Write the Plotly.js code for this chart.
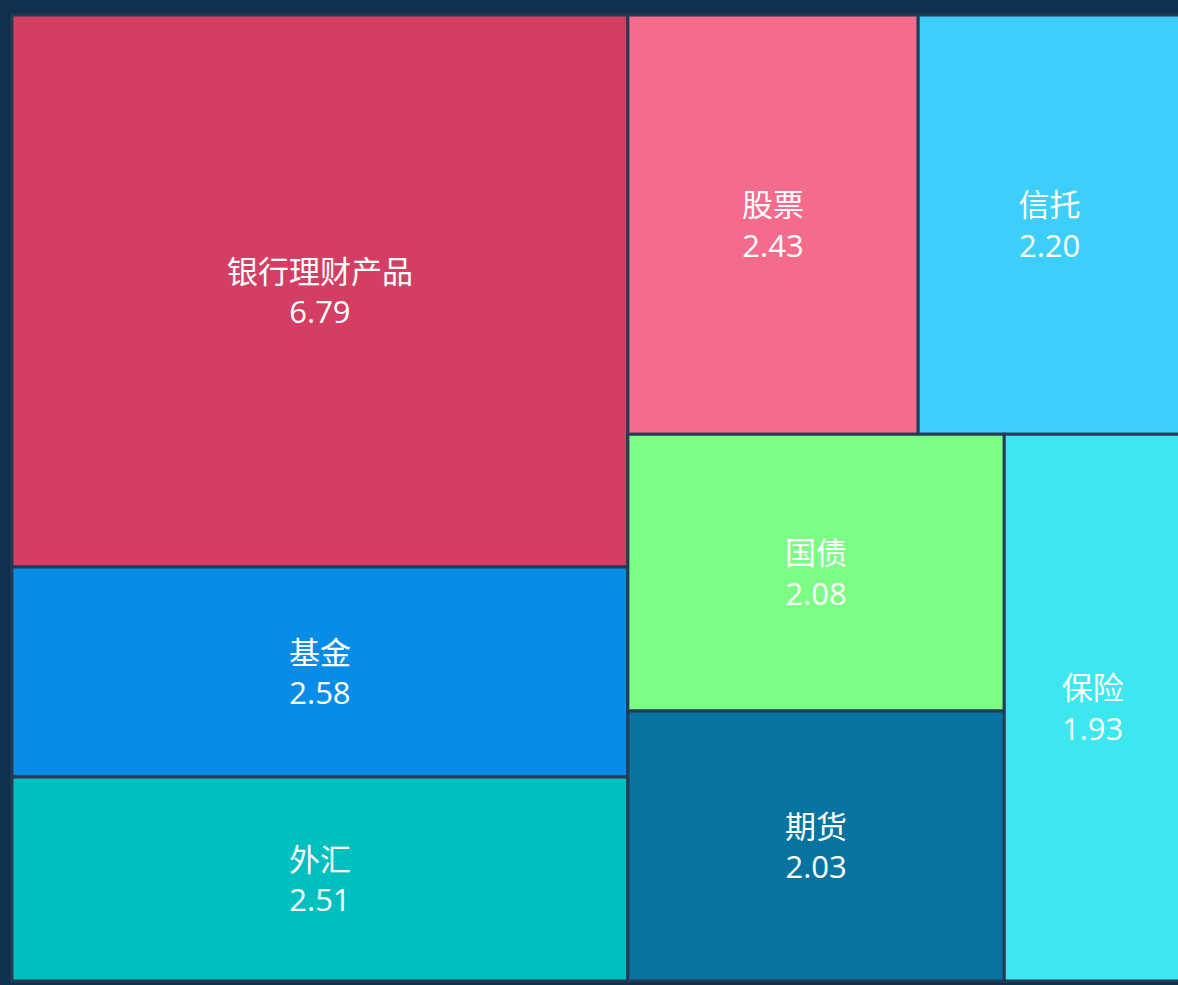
<!DOCTYPE html>
<html>
<head>
<meta charset="utf-8">
<script src="https://cdn.plot.ly/plotly-3.0.1.min.js"></script>
<style>
html, body { margin: 0; padding: 0; overflow: hidden; background: #0e3150; }
#chart { width: 1190px; height: 985px; }
</style>
</head>
<body>
<div id="chart"></div>
<script>
const categories = ["银行理财产品", "基金", "外汇", "股票", "信托", "国债", "期货", "保险"];
const values = [6.79, 2.58, 2.51, 2.43, 2.20, 2.08, 2.03, 1.93];
const colors = ["#d43e63", "#078de8", "#00bfbf", "#f56b8b", "#3ccffc", "#7cfd86", "#0773a0", "#3ce7f0"];

const trace = {
  type: "treemap",
  labels: categories,
  parents: categories.map(() => ""),
  values: values,
  sort: true,
  texttemplate: "%{label}<br>%{value:.2f}",
  textposition: "middle center",
  hoverinfo: "label+value",
  tiling: { packing: "squarify", squarifyratio: 1.618, pad: 0 },
  pathbar: { visible: false },
  marker: {
    colors: colors,
    line: { color: "#263a55", width: 3 },
    pad: { t: 0, l: 0, r: 0, b: 0 }
  },
  leaf: { opacity: 1 },
  insidetextfont: { family: "Open Sans, Noto Sans CJK SC, sans-serif", size: 31, color: "#ffffff" }
};

const layout = {
  width: 1190,
  height: 985,
  margin: { l: 12, r: 9, t: 15, b: 4 },
  paper_bgcolor: "#0e3150",
  plot_bgcolor: "#0e3150",
  showlegend: false
};

Plotly.newPlot("chart", [trace], layout, { displayModeBar: false, staticPlot: true });
</script>
</body>
</html>
